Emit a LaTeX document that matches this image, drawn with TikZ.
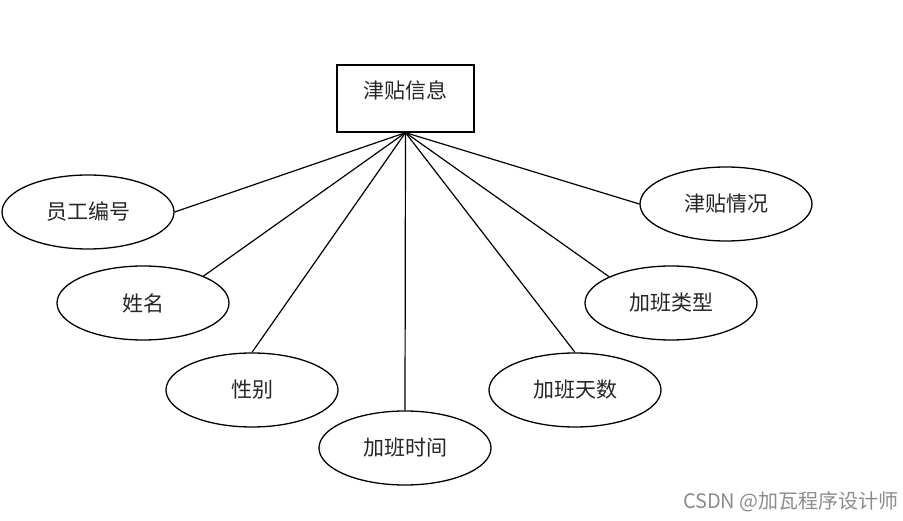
\documentclass[tikz,border=0pt]{standalone}
\usepackage{fontspec}
\setmainfont{Noto Sans CJK SC}
\usetikzlibrary{shapes.geometric}
\begin{document}
\begin{tikzpicture}[x=1pt,y=-1pt,
  attr/.style={draw=black, line width=1.3pt, ellipse, minimum width=172pt, minimum height=74pt, inner sep=0pt, font=\fontsize{21}{21}\selectfont, text=black!85},
  entity/.style={draw=black, line width=1.3pt, rectangle, minimum width=137pt, minimum height=67pt, inner sep=0pt, text height=10pt, text depth=10pt, font=\fontsize{21}{21}\selectfont, text=black!85},
  link/.style={draw=black, line width=1.2pt}]
\useasboundingbox (0,0) rectangle (903,521);
\fill[white] (0,0) rectangle (903,521);
\node[entity] (e) at (405.5,98.5) {津贴信息};
\coordinate (hub) at (e.south);
\node[attr] (a1) at (88,212) {员工编号};
\node[attr] (a2) at (143,303) {姓名};
\node[attr] (a3) at (252,390) {性别};
\node[attr] (a4) at (405,448) {加班时间};
\node[attr] (a5) at (575,390) {加班天数};
\node[attr] (a6) at (671,303) {加班类型};
\node[attr] (a7) at (726,204) {津贴情况};
\draw[link] (hub) -- (a1.east);
\draw[link] (hub) -- (a2.24);
\draw[link] (hub) -- (a3.north);
\draw[link] (hub) -- (a4.north);
\draw[link] (hub) -- (a5.north);
\draw[link] (hub) -- (a6.157);
\draw[link] (hub) -- (a7.west);
\node[anchor=base east, inner sep=0pt, text=black!45, font=\fontsize{20}{20}\selectfont] (wm) at (899,508) {CSDN @加瓦程序设计师};
\end{tikzpicture}
\end{document}
